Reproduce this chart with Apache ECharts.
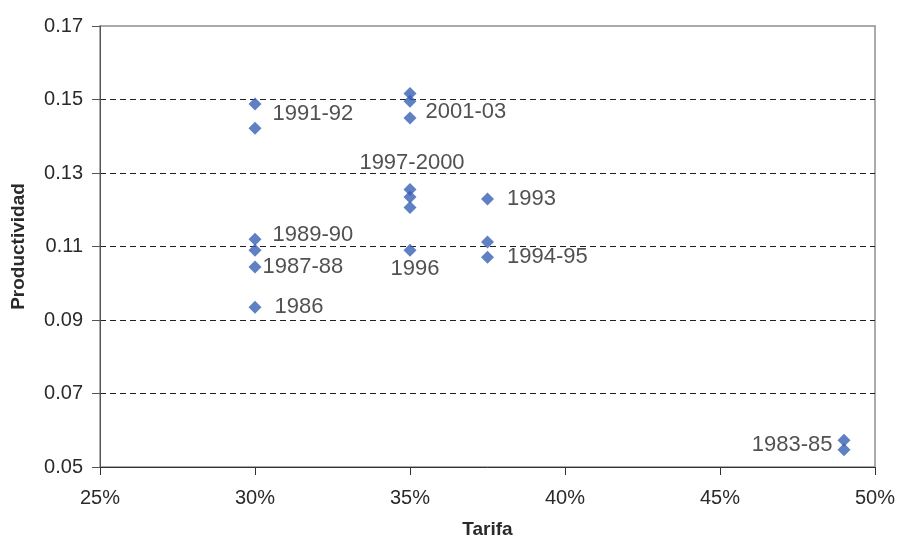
<!DOCTYPE html>
<html>
<head>
<meta charset="utf-8">
<script src="https://cdn.jsdelivr.net/npm/echarts@6/dist/echarts.min.js"></script>
<style>
  html, body { margin: 0; padding: 0; background: #fff; }
  #chart { width: 897px; height: 537px; }
</style>
</head>
<body>
<div id="chart"></div>
<script>
// datos
var tarifa = [0.30, 0.30, 0.30, 0.30, 0.30, 0.30,
              0.35, 0.35, 0.35, 0.35, 0.35, 0.35, 0.35,
              0.375, 0.375, 0.375,
              0.49, 0.49];
var productividad = [0.1488, 0.1422, 0.1120, 0.1090, 0.1044, 0.0935,
                     0.1516, 0.1495, 0.1450, 0.1255, 0.1235, 0.1206, 0.1090,
                     0.1229, 0.1112, 0.1071,
                     0.0573, 0.0547];
var periodos = ['', '1991-92', '1989-90', '', '1987-88', '1986',
                '', '', '2001-03', '1997-2000', '', '', '1996',
                '1993', '', '1994-95',
                '', '1983-85'];
var xTicks = [0.25, 0.30, 0.35, 0.40, 0.45, 0.50];
var yTicks = [0.05, 0.07, 0.09, 0.11, 0.13, 0.15, 0.17];

// colocación de las etiquetas
var labelPos = {
  '1991-92':   { position: 'right', distance: 11, offset: [0, -14] },
  '1989-90':   { position: 'right', distance: 11, offset: [0, -4] },
  '1987-88':   { position: 'right', distance: 1,  offset: [0, 0] },
  '1986':      { position: 'right', distance: 13, offset: [0, 0] },
  '2001-03':   { position: 'right', distance: 9,  offset: [0, -6] },
  '1997-2000': { position: 'top',   distance: 9,  offset: [2, 0] },
  '1996':      { position: 'bottom', distance: 0, offset: [5, 1] },
  '1993':      { position: 'right', distance: 13, offset: [0, 0] },
  '1994-95':   { position: 'right', distance: 13, offset: [0, 0] },
  '1983-85':   { position: 'left',  distance: 5,  offset: [0, -5] }
};

var points = tarifa.map(function (t, i) {
  var p = { value: [t, productividad[i]] };
  var lab = periodos[i];
  if (lab) {
    var cfg = labelPos[lab];
    p.label = {
      show: true,
      formatter: lab,
      position: cfg.position,
      distance: cfg.distance,
      offset: cfg.offset
    };
  }
  return p;
});

var myChart = echarts.init(document.getElementById('chart'));
myChart.setOption({
  animation: false,
  backgroundColor: '#ffffff',
  textStyle: { fontFamily: 'Liberation Sans' },
  grid: {
    left: 100,
    right: 22,
    top: 26,
    bottom: 70,
    outerBoundsMode: 'none',
    show: true,
    borderColor: '#948c8c',
    borderWidth: 1.5
  },
  xAxis: {
    type: 'value',
    min: xTicks[0],
    max: xTicks[xTicks.length - 1],
    interval: 0.05,
    name: 'Tarifa',
    nameLocation: 'middle',
    nameGap: 53,
    nameTextStyle: { color: '#2a2a2a', fontSize: 19, fontWeight: 'bold' },
    axisLine: { show: true, lineStyle: { color: '#333', width: 1 } },
    axisTick: { show: true, length: 8, lineStyle: { color: '#333' } },
    axisLabel: {
      color: '#2a2a2a',
      fontSize: 20,
      margin: 21,
      formatter: function (v) { return Math.round(v * 100) + '%'; }
    },
    splitLine: { show: false }
  },
  yAxis: {
    type: 'value',
    min: yTicks[0],
    max: yTicks[yTicks.length - 1],
    interval: 0.02,
    name: 'Productividad',
    nameLocation: 'middle',
    nameGap: 72,
    nameTextStyle: { color: '#2a2a2a', fontSize: 19, fontWeight: 'bold' },
    axisLine: { show: true, lineStyle: { color: '#555', width: 1 } },
    axisTick: { show: true, length: 8, lineStyle: { color: '#555' } },
    axisLabel: {
      color: '#2a2a2a',
      fontSize: 20,
      margin: 17,
      formatter: function (v) { return v.toFixed(2); }
    },
    splitLine: {
      show: true,
      showMinLine: false,
      showMaxLine: false,
      lineStyle: { color: '#222', type: [6, 4], width: 1 }
    }
  },
  series: [
    {
      type: 'scatter',
      symbol: 'diamond',
      symbolSize: 13,
      itemStyle: { color: '#3760b3' },
      label: {
        color: '#262626',
        fontSize: 22
      },
      data: points
    }
  ]
});
</script>
</body>
</html>
